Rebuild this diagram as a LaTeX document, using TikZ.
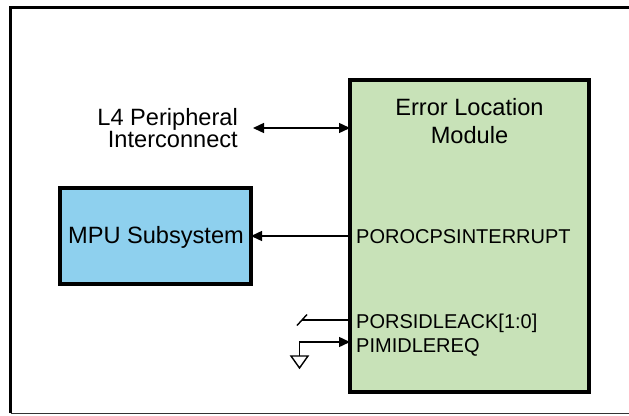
\documentclass[tikz,border=0pt]{standalone}
\usepackage{fontspec}
\setmainfont{Liberation Sans}
\usetikzlibrary{arrows.meta}
\definecolor{elmgreen}{RGB}{200,226,184}
\definecolor{mpublue}{RGB}{142,208,238}
\tikzset{
  blockbox/.style={draw=black, line width=3.5pt, inner sep=0pt, outer sep=0pt},
  bigtext/.style={font=\fontsize{23.6}{26}\selectfont, inner sep=0pt},
  porttext/.style={font=\fontsize{20}{22}\selectfont, inner sep=0pt, anchor=base west},
  sig/.style={line width=1.4pt, black},
  tip/.style={-{Triangle[length=11pt,width=10pt]}},
  dtip/.style={{Triangle[length=11pt,width=10pt]}-{Triangle[length=11pt,width=10pt]}}
}
\begin{document}
\begin{tikzpicture}[x=1pt,y=-1pt]
\useasboundingbox (0,0) rectangle (629,415);
% outer frame
\draw[line width=3.5pt] (10.5,413) -- (10.5,7.5) -- (640,7.5);
\draw[line width=1pt, black!80] (10.5,413) -- (640,413);
% blocks
\node[blockbox, fill=elmgreen, minimum width=239pt, minimum height=312pt] (elm) at (469.5,236) {};
\node[blockbox, fill=mpublue, minimum width=191pt, minimum height=96pt] (mpu) at (155.5,236) {};
\node[bigtext] (mputxt) at (156,237) {MPU Subsystem};
% texts
\node[font=\fontsize{23.6}{28}\selectfont, inner sep=0pt, align=center] (elmt) at (469.5,121.5) {Error Location\\Module};
\node[font=\fontsize{23.6}{21}\selectfont, inner sep=0pt, align=right, anchor=east] (l4) at (238,128) {L4 Peripheral\\Interconnect};
\node[porttext] (p1) at (356,243.5) {POROCPSINTERRUPT};
\node[porttext] (p2) at (356,328) {PORSIDLEACK[1:0]};
\node[porttext] (p3) at (356,352) {PIMIDLEREQ};
% connectors
\coordinate (l4end) at (253,128);
\draw[sig, dtip] (l4end) -- (l4end -| elm.west);
\draw[sig, tip] (elm.west |- mpu.east) -- (mpu.east);
\coordinate (ackend) at (302,320);
\coordinate (slashA) at (297,325.5);
\coordinate (slashB) at (307,314.5);
\draw[sig] (elm.west |- ackend) -- (ackend);
\draw[sig] (slashA) -- (slashB);
\coordinate (gnd) at (299.5,356);
\coordinate (reqcorner) at (299.5,342);
\draw[sig, tip] (gnd) -- (reqcorner) -- (reqcorner -| elm.west);
\draw[sig, line join=miter] (291,356) -- (308,356) -- (299.5,368) -- cycle;
\end{tikzpicture}
\end{document}
